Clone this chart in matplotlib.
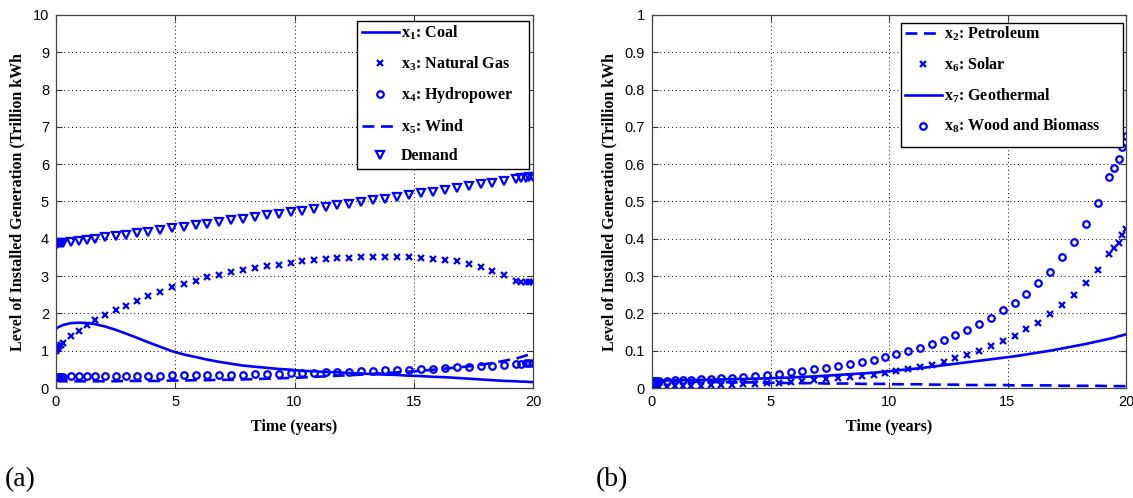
import matplotlib
matplotlib.use("Agg")
import matplotlib.pyplot as plt
from matplotlib.patches import Rectangle

plt.rcParams['mathtext.fontset'] = 'custom'
plt.rcParams['mathtext.rm'] = 'Liberation Serif:bold'
plt.rcParams['mathtext.it'] = 'Liberation Serif:bold'
plt.rcParams['mathtext.bf'] = 'Liberation Serif:bold'

# ---------------- data ----------------
t = [0, 0.03, 0.07, 0.12, 0.2, 0.3, 0.63, 0.98, 1.3, 1.65, 2.05, 2.5, 2.93, 3.38, 3.85,
     4.35, 4.85, 5.35, 5.85, 6.35, 6.85, 7.35, 7.85, 8.35, 8.85, 9.35, 9.85, 10.3, 10.8,
     11.3, 11.8, 12.3, 12.8, 13.3, 13.8, 14.3, 14.8, 15.3, 15.8, 16.3, 16.8, 17.3, 17.8,
     18.3, 18.8, 19.3, 19.5, 19.7, 19.85, 20.0]

coal = [1.58, 1.60, 1.62, 1.64, 1.66, 1.69, 1.74, 1.75, 1.74, 1.71, 1.65, 1.56, 1.46, 1.35, 1.23,
        1.11, 0.99, 0.90, 0.83, 0.76, 0.70, 0.65, 0.60, 0.57, 0.54, 0.51, 0.49, 0.46, 0.45,
        0.43, 0.42, 0.40, 0.39, 0.37, 0.36, 0.35, 0.33, 0.32, 0.30, 0.29, 0.27, 0.25, 0.23,
        0.21, 0.19, 0.18, 0.17, 0.17, 0.16, 0.16]

natural_gas = [1.00, 1.04, 1.08, 1.12, 1.16, 1.21, 1.40, 1.54, 1.69, 1.83, 1.96, 2.08, 2.21, 2.33, 2.46,
               2.58, 2.70, 2.79, 2.88, 2.97, 3.04, 3.11, 3.17, 3.22, 3.26, 3.31, 3.35, 3.40, 3.44,
               3.46, 3.49, 3.49, 3.52, 3.51, 3.51, 3.51, 3.51, 3.49, 3.46, 3.44, 3.40, 3.33, 3.24,
               3.15, 3.02, 2.88, 2.84, 2.83, 2.83, 2.83]

hydropower = [0.30, 0.30, 0.30, 0.30, 0.30, 0.30, 0.31, 0.32, 0.32, 0.32, 0.32, 0.32, 0.32, 0.33, 0.33,
              0.33, 0.34, 0.34, 0.34, 0.35, 0.35, 0.36, 0.36, 0.37, 0.38, 0.38, 0.39, 0.40, 0.41,
              0.42, 0.43, 0.44, 0.45, 0.46, 0.47, 0.48, 0.49, 0.50, 0.52, 0.53, 0.55, 0.56, 0.58,
              0.60, 0.62, 0.64, 0.65, 0.66, 0.67, 0.67]

wind = [0.20, 0.19, 0.19, 0.18, 0.18, 0.18, 0.18, 0.18, 0.18, 0.18, 0.18, 0.18, 0.19, 0.19, 0.19,
        0.19, 0.20, 0.20, 0.21, 0.21, 0.22, 0.22, 0.23, 0.24, 0.25, 0.26, 0.27, 0.28, 0.30,
        0.31, 0.33, 0.34, 0.36, 0.38, 0.40, 0.42, 0.44, 0.46, 0.49, 0.52, 0.55, 0.58, 0.62,
        0.67, 0.73, 0.79, 0.83, 0.87, 0.89, 0.92]

demand = [3.870, 3.872, 3.876, 3.880, 3.886, 3.895, 3.922, 3.951, 3.977, 4.006, 4.040, 4.077, 4.114,
          4.152, 4.192, 4.234, 4.277, 4.320, 4.363, 4.407, 4.450, 4.494, 4.538, 4.583, 4.627,
          4.672, 4.717, 4.757, 4.802, 4.848, 4.893, 4.939, 4.985, 5.031, 5.078, 5.124, 5.171,
          5.218, 5.266, 5.313, 5.361, 5.408, 5.456, 5.505, 5.553, 5.601, 5.621, 5.641, 5.655, 5.670]

petroleum = [0.020, 0.019, 0.019, 0.019, 0.019, 0.019, 0.018, 0.018, 0.018, 0.017, 0.017, 0.016, 0.016,
             0.015, 0.015, 0.015, 0.014, 0.014, 0.013, 0.013, 0.013, 0.012, 0.012, 0.012, 0.011,
             0.011, 0.011, 0.010, 0.010, 0.010, 0.009, 0.009, 0.009, 0.008, 0.008, 0.008, 0.008,
             0.007, 0.007, 0.007, 0.007, 0.006, 0.006, 0.006, 0.006, 0.005, 0.005, 0.005, 0.005, 0.005]

solar = [0.003, 0.003, 0.003, 0.003, 0.004, 0.004, 0.004, 0.005, 0.005, 0.005, 0.006, 0.007, 0.008,
         0.009, 0.010, 0.011, 0.013, 0.014, 0.017, 0.019, 0.022, 0.024, 0.026, 0.029, 0.032,
         0.035, 0.040, 0.045, 0.050, 0.056, 0.063, 0.071, 0.080, 0.089, 0.100, 0.112, 0.125,
         0.140, 0.157, 0.174, 0.198, 0.222, 0.248, 0.281, 0.317, 0.360, 0.375, 0.390, 0.410, 0.425]

geothermal = [0.020, 0.020, 0.020, 0.020, 0.020, 0.020, 0.020, 0.021, 0.021, 0.021, 0.022, 0.022, 0.023,
              0.024, 0.024, 0.025, 0.026, 0.027, 0.028, 0.030, 0.031, 0.033, 0.035, 0.037, 0.039,
              0.041, 0.044, 0.047, 0.050, 0.053, 0.057, 0.061, 0.065, 0.069, 0.073, 0.077, 0.081,
              0.085, 0.090, 0.095, 0.100, 0.106, 0.112, 0.118, 0.125, 0.132, 0.135, 0.139, 0.141, 0.144]

wood_biomass = [0.020, 0.020, 0.020, 0.020, 0.020, 0.020, 0.020, 0.021, 0.021, 0.022, 0.023, 0.024, 0.026,
                0.027, 0.029, 0.031, 0.035, 0.038, 0.042, 0.045, 0.050, 0.054, 0.059, 0.065, 0.071,
                0.076, 0.082, 0.090, 0.099, 0.108, 0.119, 0.130, 0.143, 0.155, 0.172, 0.188, 0.209,
                0.229, 0.252, 0.282, 0.312, 0.351, 0.391, 0.440, 0.497, 0.566, 0.590, 0.615, 0.645, 0.675]

left_labels = [r'x$_{1}$: Coal', r'x$_{3}$: Natural Gas', r'x$_{4}$: Hydropower',
               r'x$_{5}$: Wind', 'Demand']
right_labels = [r'x$_{2}$: Petroleum', r'x$_{6}$: Solar', r'x$_{7}$: Geothermal',
                r'x$_{8}$: Wood and Biomass']
left_yticks = [0, 1, 2, 3, 4, 5, 6, 7, 8, 9, 10]
left_yticklabels = ['0', '1', '2', '3', '4', '5', '6', '7', '8', '9', '10']
right_yticks = [0, 0.1, 0.2, 0.3, 0.4, 0.5, 0.6, 0.7, 0.8, 0.9, 1.0]
right_yticklabels = ['0', '0.1', '0.2', '0.3', '0.4', '0.5', '0.6', '0.7', '0.8', '0.9', '1']
xticks = [0, 5, 10, 15, 20]
xticklabels = ['0', '5', '10', '15', '20']

# ---------------- figure ----------------
W, H = 1133, 498
fig = plt.figure(figsize=(W / 100, H / 100), dpi=100)
fig.patch.set_facecolor('white')

BLUE = '#0000ff'
SERIF = 'Liberation Serif'
SANS = 'Liberation Sans'


def px_axes(x0, x1, y0, y1):
    return fig.add_axes([x0 / W, 1 - y1 / H, (x1 - x0) / W, (y1 - y0) / H])


def px_box(x0, x1, y0, y1):
    fig.add_artist(Rectangle((x0 / W, 1 - y1 / H), (x1 - x0) / W, (y1 - y0) / H,
                             transform=fig.transFigure, facecolor='white',
                             edgecolor='black', linewidth=1.0, zorder=4))


def style(ax, yticks, ylabels):
    ax.set_xlim(0, 20)
    ax.set_xticks(xticks)
    ax.set_xticklabels(xticklabels, family=SANS, fontsize=10.5)
    ax.set_yticks(yticks)
    ax.set_yticklabels(ylabels, family=SANS, fontsize=10.5)
    ax.set_ylim(yticks[0], yticks[-1])
    ax.tick_params(direction='in', top=True, right=True, length=4.5, width=0.8,
                   color='#333333', pad=5)
    for s in ax.spines.values():
        s.set_color('#444444')
        s.set_linewidth(0.9)
    ax.grid(True, linestyle=(0, (1, 3)), color='black', linewidth=0.7)
    ax.set_axisbelow(True)
    ax.set_xlabel('Time (years)', family=SERIF, weight='bold', fontsize=11.5, labelpad=7)
    ax.set_ylabel('Level of Installed Generation (Trillion kWh', family=SERIF,
                  weight='bold', fontsize=11.5, labelpad=5)


mk = dict(linestyle='none', color=BLUE, markerfacecolor='none', markeredgecolor=BLUE,
          markeredgewidth=1.6)
LW = 1.9

# ---- panel (a) ----
ax1 = px_axes(56, 533, 15, 388)
h1, = ax1.plot(t, coal, color=BLUE, linewidth=LW)
h3, = ax1.plot(t, natural_gas, marker='x', markersize=4.6, **mk)
h4, = ax1.plot(t, hydropower, marker='o', markersize=4.7, **mk)
h5, = ax1.plot(t, wind, color=BLUE, linewidth=LW, dashes=(4.5, 2.5))
hd, = ax1.plot(t, demand, marker='v', markersize=5.2, **mk)
style(ax1, left_yticks, left_yticklabels)

# ---- panel (b) ----
ax2 = px_axes(652, 1126, 15, 388)
h2, = ax2.plot(t, petroleum, color=BLUE, linewidth=LW, dashes=(4.5, 2.5))
h6, = ax2.plot(t, solar, marker='x', markersize=4.6, **mk)
h7, = ax2.plot(t, geothermal, color=BLUE, linewidth=LW)
h8, = ax2.plot(t, wood_biomass, marker='o', markersize=4.7, **mk)
style(ax2, right_yticks, right_yticklabels)

# legend boxes drawn as rectangles, entries via legend without frame
px_box(357, 529, 21, 169)
px_box(901, 1123, 23, 147)

legkw = dict(prop=dict(family=SERIF, weight='bold', size=11.5), frameon=False,
             borderpad=0, labelspacing=0.77, handlelength=2.3, handletextpad=0.12,
             borderaxespad=0, numpoints=1, loc='upper left')
leg1 = fig.legend([h1, h3, h4, h5, hd], left_labels,
                  bbox_to_anchor=(362 / W, 1 - 24 / H), **legkw)
leg1.set_zorder(5)
leg2 = fig.legend([h2, h6, h7, h8], right_labels,
                  bbox_to_anchor=(905 / W, 1 - 25 / H), **legkw)
leg2.set_zorder(5)

fig.text(5 / W, 1 - 480 / H, '(a)', family=SERIF, fontsize=20, ha='left', va='center')
fig.text(596 / W, 1 - 480 / H, '(b)', family=SERIF, fontsize=20, ha='left', va='center')

fig.savefig('out.png', dpi=100)
